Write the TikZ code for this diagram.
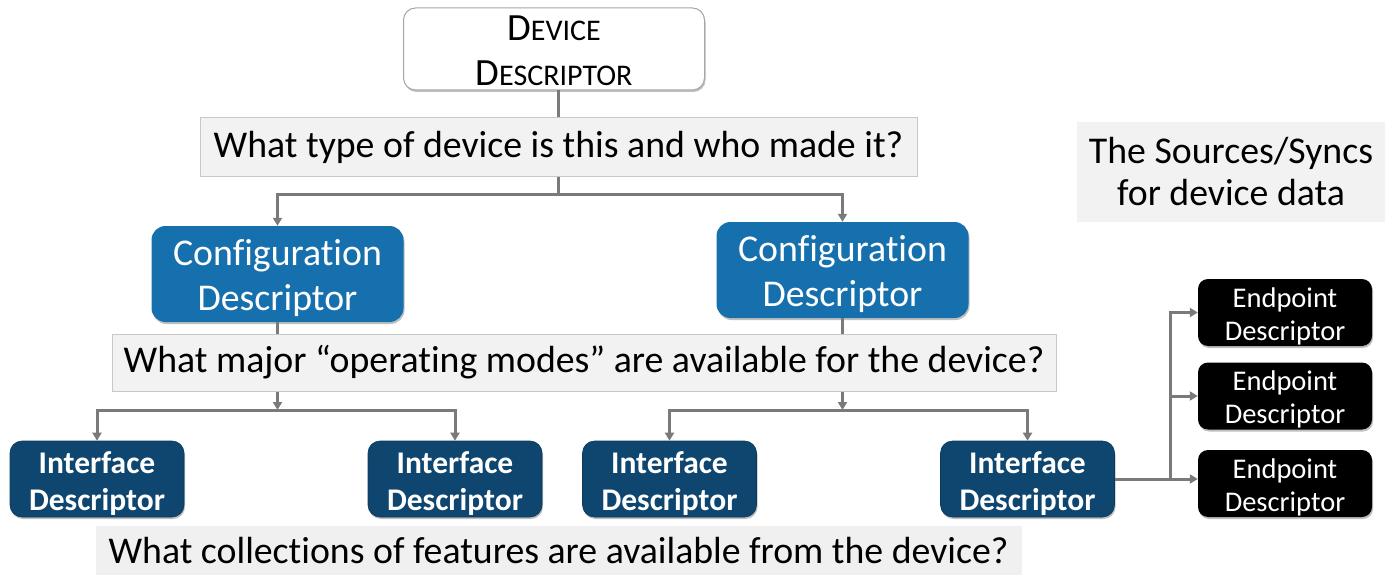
\documentclass[tikz,border=0pt]{standalone}
\usepackage{fontspec}
\setmainfont{Carlito}[Ligatures=NoCommon]
\usetikzlibrary{arrows.meta,shadows}

\definecolor{cfgblue}{HTML}{1770AE}
\definecolor{ifnavy}{HTML}{0F4670}
\definecolor{qfill}{HTML}{F2F2F2}
\definecolor{q3fill}{HTML}{F0F0F0}
\definecolor{qline}{HTML}{C8C8C8}
\definecolor{wire}{HTML}{7A7A7A}

% invisible rule that gives the first line of a label a set height
\newcommand{\lift}[1]{\rule{0pt}{#1}}
\newcommand{\smallcap}[1]{{\fontsize{30}{45}\selectfont #1}}

\tikzset{
  boxshadow/.style={drop shadow={shadow xshift=1pt,shadow yshift=-2pt,opacity=0.25,fill=black}},
  devbox/.style={draw=black!35,line width=1pt,fill=white,rounded corners=12pt,
    minimum width=301pt,minimum height=82pt,align=center,inner sep=0pt,
    font=\fontsize{38.5}{45}\selectfont,boxshadow},
  cfgbox/.style={fill=cfgblue,rounded corners=14pt,text=white,
    minimum width=252pt,minimum height=96pt,align=center,inner sep=0pt,
    font=\fontsize{37.8}{45}\selectfont,boxshadow},
  ifbox/.style={fill=ifnavy,draw=ifnavy!80!black,line width=0.6pt,rounded corners=12pt,text=white,
    minimum width=174pt,minimum height=76pt,align=center,inner sep=0pt,
    font=\bfseries\fontsize{31.5}{37}\selectfont,boxshadow},
  epbox/.style={fill=black,rounded corners=10pt,text=white,
    minimum width=174pt,minimum height=67pt,align=center,inner sep=0pt,
    font=\fontsize{28.5}{33}\selectfont,boxshadow},
  qbox/.style={fill=qfill,draw=qline,line width=1pt,inner sep=0pt,
    font=\fontsize{37.8}{42}\selectfont},
  notebox/.style={fill=qfill,inner sep=0pt,align=center,
    font=\fontsize{37.8}{42}\selectfont},
  wireline/.style={draw=wire,line width=3pt},
  wirearrow/.style={wireline,-{Triangle[length=8pt,width=9pt]}},
}

\begin{document}
\begin{tikzpicture}[x=1pt,y=-1pt]
\useasboundingbox (0,0) rectangle (1393,575);

% top level
\node[devbox] (dev) at (554,49) {\lift{29pt}D\smallcap{EVICE}\\D\smallcap{ESCRIPTOR}};
\node[qbox,minimum width=717pt,minimum height=59pt] (q1) at (558.5,147.5) {What type of device is this and who made it?};

% configurations
\node[cfgbox] (cfgL) at (277.5,274) {\lift{34pt}Configuration\\Descriptor};
\node[cfgbox] (cfgR) at (842.5,270) {\lift{34pt}Configuration\\Descriptor};
\node[qbox,minimum width=944pt,minimum height=57pt] (q2) at (584,362.5) {What major “operating modes” are available for the device?};

% interfaces
\node[ifbox] (ifA) at (97,479) {\lift{30.5pt}Interface\\Descriptor};
\node[ifbox] (ifB) at (455,479) {\lift{30.5pt}Interface\\Descriptor};
\node[ifbox] (ifC) at (669.5,479) {\lift{30.5pt}Interface\\Descriptor};
\node[ifbox] (ifD) at (1027.5,479) {\lift{30.5pt}Interface\\Descriptor};
\node[qbox,draw=none,fill=q3fill,minimum width=926pt,minimum height=50pt,anchor=north west] (q3) at (95,525) {What collections of features are available from the device?};

% endpoints
\node[epbox] (ep1) at (1285,312.5) {\lift{27.5pt}Endpoint\\Descriptor};
\node[epbox] (ep2) at (1285,396) {\lift{27.5pt}Endpoint\\Descriptor};
\node[epbox] (ep3) at (1285,483.5) {\lift{27.5pt}Endpoint\\Descriptor};

% side note
\node[notebox,minimum width=308pt,minimum height=100pt] (src) at (1231,172) {The Sources/Syncs\\for device data};

% junction points
\coordinate (j1) at (558.5,195);
\coordinate (j2) at (277.5,410);
\coordinate (j3) at (842.5,410);
\coordinate (j4) at (1170,479);

% connectors
\draw[wireline] (dev.south -| q1.north) -- (q1.north);
\draw[wireline] (q1.south) -- (j1);
\draw[wirearrow] (j1) -| (cfgL.north);
\draw[wirearrow] (j1) -| (cfgR.north);

\draw[wireline] (cfgL.south) -- (cfgL.south |- q2.north);
\draw[wireline] (cfgR.south) -- (cfgR.south |- q2.north);
\draw[wirearrow] (cfgL.south |- q2.south) -- (j2);
\draw[wirearrow] (cfgR.south |- q2.south) -- (j3);
\draw[wirearrow] (j2) -| (ifA.north);
\draw[wirearrow] (j2) -| (ifB.north);
\draw[wirearrow] (j3) -| (ifC.north);
\draw[wirearrow] (j3) -| (ifD.north);

\draw[wirearrow] (ifD.east) -- (ifD.east -| ep3.west);
\draw[wirearrow] (j4) |- (ep1.west);
\draw[wirearrow] (j4 |- ep2.west) -- (ep2.west);
\end{tikzpicture}
\end{document}
